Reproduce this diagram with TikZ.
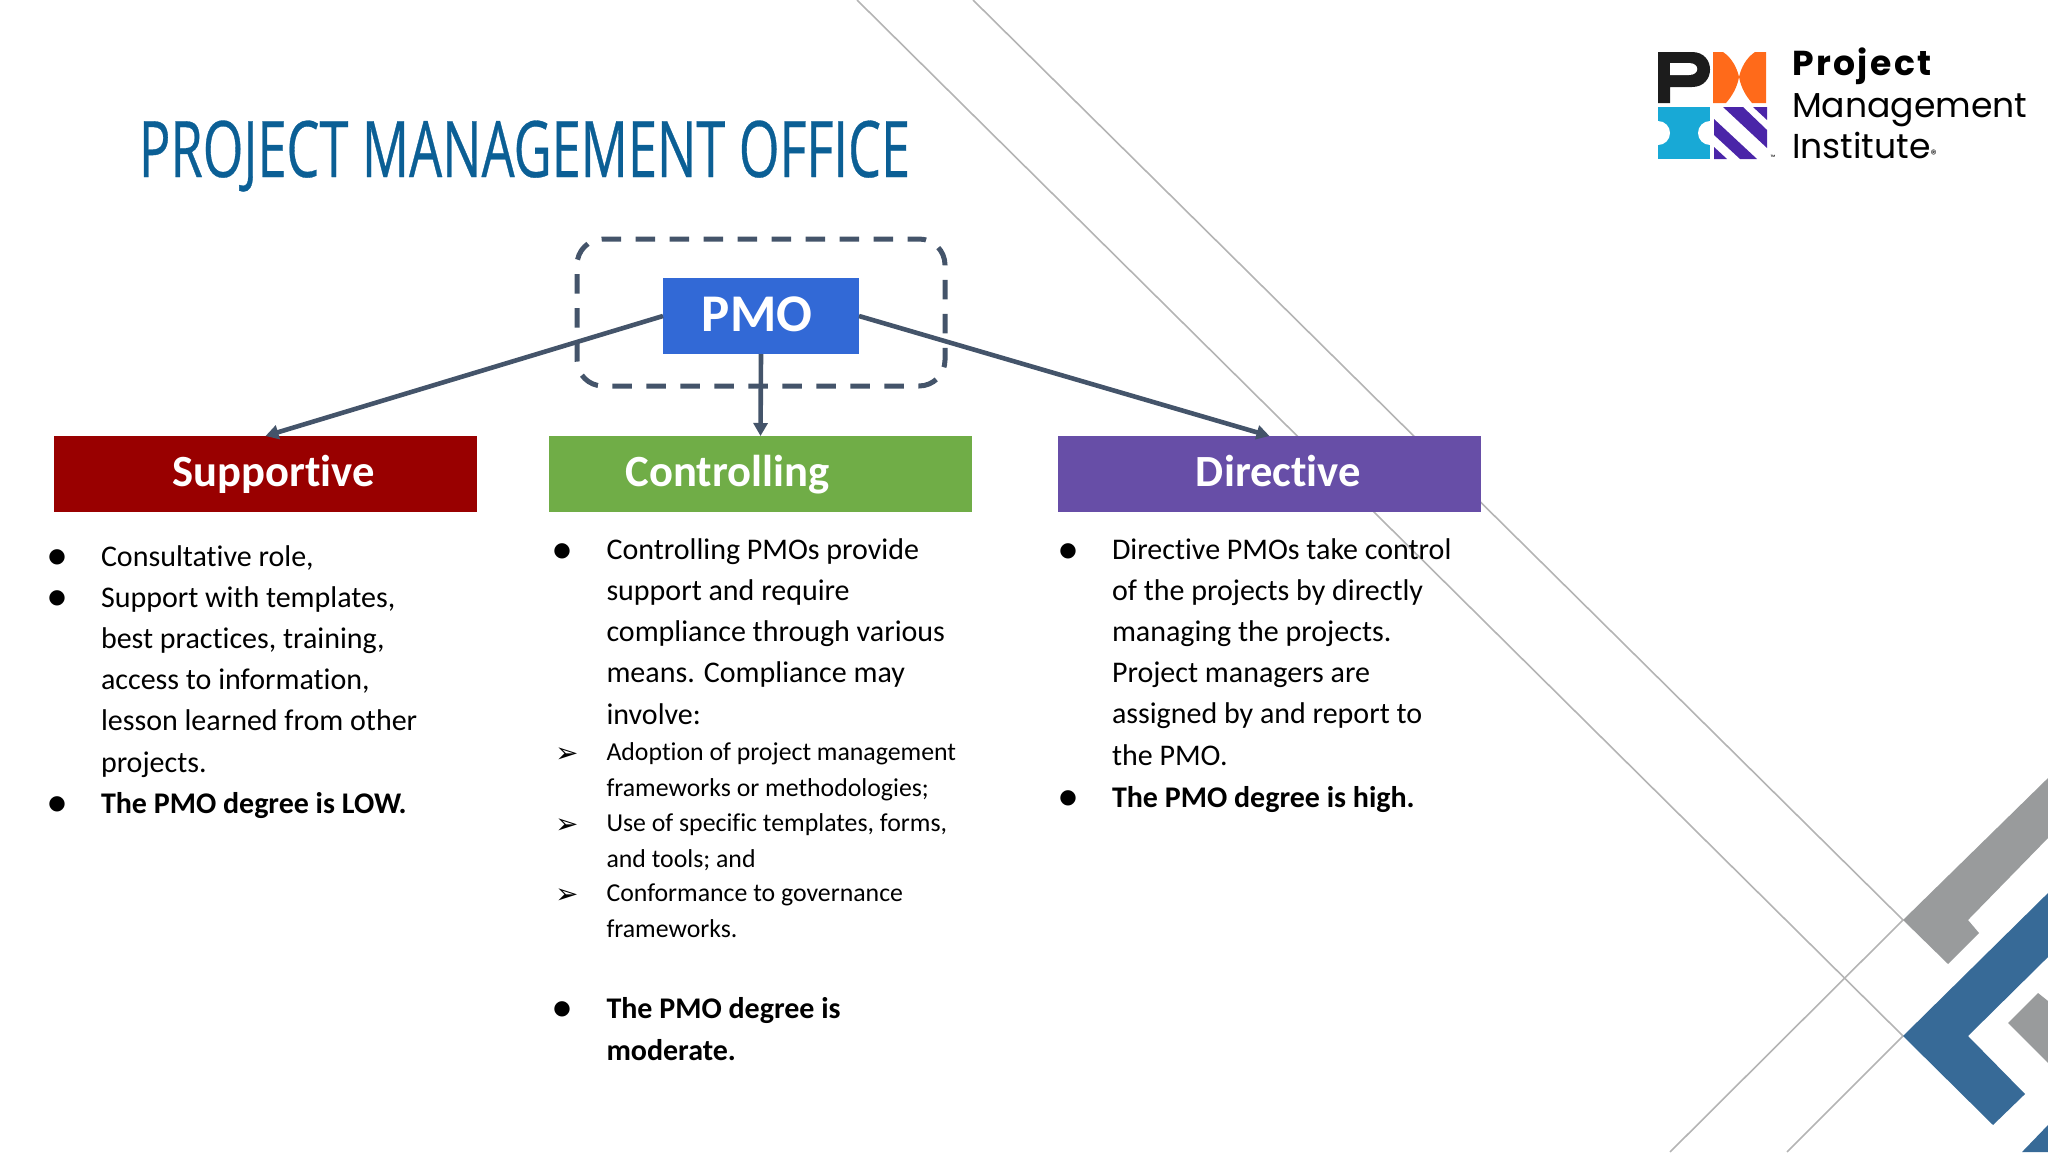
\documentclass[tikz,border=0pt]{standalone}
\usepackage{fontspec}
\setmainfont[Ligatures=NoCommon]{Carlito}
\newfontfamily\symfont{DejaVu Sans}
\newfontfamily\titlefont[FakeStretch=0.67,FakeBold=0.4]{Open Sans}
\newfontfamily\logofont{Poppins}
\newfontfamily\logobold[LetterSpace=7]{Poppins}
\usetikzlibrary{arrows.meta,positioning,shapes}

\definecolor{titleblue}{HTML}{0B5F95}
\definecolor{pmoblue}{HTML}{3269D6}
\definecolor{linkgrey}{HTML}{44546A}
\definecolor{suppred}{HTML}{990000}
\definecolor{ctrlgreen}{HTML}{70AD47}
\definecolor{dirpurple}{HTML}{674EA7}
\definecolor{rulegrey}{HTML}{B4B4B4}
\definecolor{slategrey}{HTML}{999B9C}
\definecolor{slateblue}{HTML}{376A97}
\definecolor{logoblack}{HTML}{1C1C1C}
\definecolor{logoorange}{HTML}{FF6A1A}
\definecolor{logocyan}{HTML}{18A9D6}
\definecolor{logopurple}{HTML}{4A25A8}

\begin{document}
\begin{tikzpicture}[>={Triangle[length=6.5pt,width=7pt]},auto,x=0.5pt,y=-0.5pt]
\tikzstyle{every node}=[inner sep=0pt,outer sep=0pt]
\tikzstyle{headbox}=[rectangle,minimum width=211.5pt,text width=211.5pt,minimum height=38pt,text height=14pt,text depth=2pt,align=center,text=white,font=\bfseries\fontsize{22.3}{24}\selectfont]
\tikzstyle{pmobox}=[rectangle,fill=pmoblue,minimum width=98pt,text width=98pt,minimum height=38pt,text height=17pt,text depth=2pt,align=center,text=white,font=\bfseries\fontsize{26.5}{30}\selectfont]
\tikzstyle{bodytext}=[anchor=base west,align=left,font=\fontsize{15}{20.6}\selectfont]
\tikzstyle{smalltext}=[anchor=base west,align=left,font=\fontsize{12.9}{17.65}\selectfont]
\tikzstyle{bullet}=[anchor=base,font=\symfont\fontsize{10}{12}\selectfont]
\tikzstyle{tick}=[anchor=base,font=\symfont\fontsize{13.8}{14}\selectfont]
\tikzstyle{link}=[->,draw=linkgrey,line width=2.3pt]
\tikzstyle{logotext}=[anchor=base west,font=\logofont\fontsize{17.3}{20}\selectfont]

\useasboundingbox (0,0) rectangle (2048,1152);

% background
\draw[rulegrey,line width=0.8pt] (857,0) -- (1903,1036) -- (1787,1152);
\draw[rulegrey,line width=0.8pt] (973,0) -- (1903,920) -- (1670,1152);
\fill[slategrey] (1903,920) -- (2048,778) -- (2048,838) -- (1968,920) -- (1979,933) -- (1948,964) -- cycle;
\fill[slategrey] (2038,993) -- (2048,1001) -- (2048,1063) -- (2008,1023) -- cycle;
\fill[slateblue] (1903,1036) -- (2048,893) -- (2048,957) -- (1968,1036) -- (2025,1094) -- (1993,1125) -- cycle;
\fill[slateblue] (2022,1152) -- (2048,1125) -- (2048,1152) -- cycle;

% logo
\fill[logoblack] (1658,52) -- (1692,52) .. controls (1716,52) and (1716,87) .. (1692,87) -- (1670,87) -- (1670,103) -- (1658,103) -- cycle;
\fill[white] (1670,63) -- (1689,63) .. controls (1700,63) and (1700,75) .. (1689,75) -- (1670,75) -- cycle;
\fill[logoorange] (1713,52) -- (1723,52) .. controls (1732,58) and (1737,68) .. (1739,77) .. controls (1741,68) and (1746,58) .. (1755,52) -- (1766,52) -- (1766,103) -- (1752,103) .. controls (1746,96) and (1741,88) .. (1739,77) .. controls (1737,88) and (1732,96) .. (1726,103) -- (1713,103) -- cycle;
\fill[logocyan] (1658,107) rectangle (1710,159);
\fill[white] (1658,133) circle (12);
\fill[white] (1710,133) circle (12);
\fill[logopurple] (1753,107) -- (1767,107) -- (1767,120) -- cycle;
\fill[logopurple] (1723,107) -- (1743,107) -- (1767,130) -- (1767,148) -- cycle;
\fill[logopurple] (1714,119) -- (1714,135) -- (1740,159) -- (1757,159) -- cycle;
\fill[logopurple] (1714,147) -- (1714,159) -- (1727,159) -- cycle;
\node[logotext,font=\logobold\bfseries\fontsize{17.3}{20}\selectfont] (logoa) at (1792,75) {Project};
\node[logotext] (logob) at (1792,117) {Management};
\node[logotext] (logoc) at (1792,158) {Institute{\fontsize{6}{6}\selectfont ®}};
\node[anchor=base,font=\logofont\fontsize{3}{3}\selectfont] (logod) at (1773,159) {™};

% title
\node[anchor=base west,text=titleblue,font=\titlefont\fontsize{39}{42}\selectfont] (title) at (139,177) {PROJECT MANAGEMENT OFFICE};

% boxes
\node[draw=linkgrey,line width=2.5pt,dash pattern=on 9.7pt off 7.3pt,dash phase=4pt,rounded corners=13pt,minimum width=184pt,minimum height=73.5pt] (frame) at (761,312.5) {};
\node[pmobox] (pmo) at (761,316) {\hspace*{-4pt}PMO};
\node[headbox,fill=suppred] (supportive) at (265.5,474) {\hspace*{8pt}Supportive};
\node[headbox,fill=ctrlgreen] (controlling) at (760.5,474) {\hspace*{-33pt}Controlling};
\node[headbox,fill=dirpurple] (directive) at (1269.5,474) {\hspace*{9pt}Directive};

\path
(pmo.west) edge[link] (supportive.north)
(pmo.south) edge[link] (controlling.north)
(pmo.east) edge[link] (directive.north);

% supportive
\node[bullet] (sa) at (57,562) {●};
\node[bodytext] (sb) at (101,566) {Consultative role,};
\node[bullet] (sc) at (57,603) {●};
\node[bodytext] (sd) at (101,772) {Support with templates,\\best practices, training,\\access to information,\\lesson learned from other\\projects.};
\node[bullet] (se) at (57,809) {●};
\node[bodytext] (sf) at (101,813) {\bfseries The PMO degree is LOW.};

% controlling
\node[bullet] (ca) at (562,556) {●};
\node[bodytext] (cb) at (606.5,724) {Controlling PMOs provide\\support and require\\compliance through various\\means. Compliance may\\involve:};
\node[tick] (cc) at (567,762) {➢};
\node[smalltext] (cd) at (606.5,796) {Adoption of project management\\frameworks or methodologies;};
\node[tick] (ce) at (567,833) {➢};
\node[smalltext] (cf) at (606.5,867) {Use of specific templates, forms,\\and tools; and};
\node[tick] (cg) at (567,903) {➢};
\node[smalltext] (ch) at (606.5,937) {Conformance to governance\\frameworks.};
\node[bullet] (ci) at (562,1014) {●};
\node[bodytext] (cj) at (606.5,1060) {\bfseries The PMO degree is\\\bfseries moderate.};

% directive
\node[bullet] (da) at (1068,556) {●};
\node[bodytext] (db) at (1112,765) {Directive PMOs take control\\of the projects by directly\\managing the projects.\\Project managers are\\assigned by and report to\\the PMO.};
\node[bullet] (dc) at (1068,803) {●};
\node[bodytext] (dd) at (1112,807) {\bfseries The PMO degree is high.};
\end{tikzpicture}
\end{document}
